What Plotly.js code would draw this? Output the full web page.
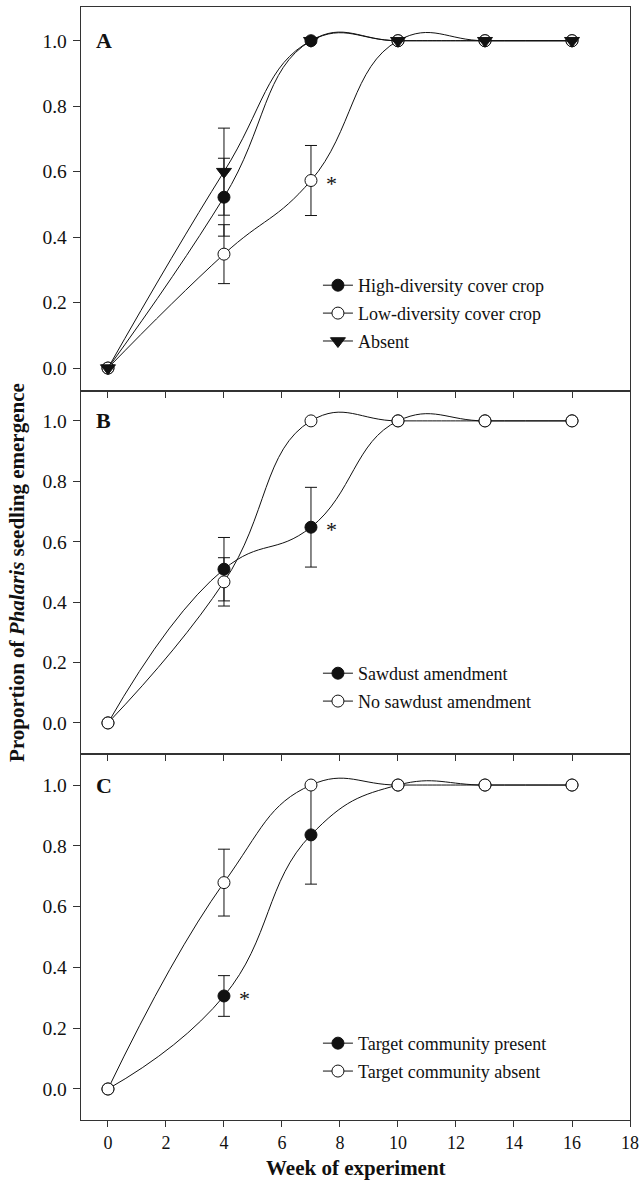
<!DOCTYPE html>
<html>
<head>
<meta charset="utf-8">
<script src="https://cdn.plot.ly/plotly-3.0.1.min.js"></script>
<style>html,body{margin:0;padding:0;background:#fff;}#chart{width:639px;height:1180px;}</style>
</head>
<body>
<div id="chart"></div>
<script>
// ---- data ----
const weeks = [0, 4, 7, 10, 13, 16];
const xTickVals = [0, 2, 4, 6, 8, 10, 12, 14, 16, 18];
const yTickVals = [0, 0.2, 0.4, 0.6, 0.8, 1.0];
const yTickText = ["0.0", "0.2", "0.4", "0.6", "0.8", "1.0"];

// Panel A
const highDiversity = [0, 0.522, 1.0, 1.0, 1.0, 1.0];
const highDiversityErr = [0, 0.119, 0, 0, 0, 0];
const lowDiversity = [0, 0.348, 0.573, 1.0, 1.0, 1.0];
const lowDiversityErr = [0, 0.090, 0.107, 0, 0, 0];
const absentCrop = [0, 0.600, 1.0, 1.0, 1.0, 1.0];
const absentCropErr = [0, 0.133, 0, 0, 0, 0];

// Panel B
const sawdust = [0, 0.509, 0.648, 1.0, 1.0, 1.0];
const sawdustErr = [0, 0.105, 0.132, 0, 0, 0];
const noSawdust = [0, 0.467, 1.0, 1.0, 1.0, 1.0];
const noSawdustErr = [0, 0.080, 0, 0, 0, 0];

// Panel C
const targetPresent = [0, 0.306, 0.836, 1.0, 1.0, 1.0];
const targetPresentErr = [0, 0.067, 0.162, 0, 0, 0];
const targetAbsent = [0, 0.679, 1.0, 1.0, 1.0, 1.0];
const targetAbsentErr = [0, 0.110, 0, 0, 0, 0];

// significance markers: [panel, week, value]
const sigMarks = [["A", 7, 0.573], ["B", 7, 0.648], ["C", 4, 0.306]];

// ---- styling / build ----
const FONT = "Liberation Serif, Times New Roman, serif";
const INK = "#111";

function errs(a) { return a.map(v => v > 0 ? v : NaN); }

function trace(name, y, e, axisIdx, symbol, filled, legendName, group) {
  const sfx = axisIdx === 1 ? "" : String(axisIdx);
  return {
    type: "scatter", mode: "lines+markers", name: name,
    x: weeks, y: y,
    xaxis: "x" + sfx, yaxis: "y" + sfx,
    legend: legendName, legendgroup: group,
    line: {color: INK, width: 1, shape: "spline", smoothing: 1.3},
    marker: {symbol: symbol, size: symbol === "triangle-down" ? 13 : 12,
             color: filled ? INK : "#fff", line: {color: INK, width: 1}},
    error_y: {type: "data", array: errs(e), visible: true, color: INK, thickness: 1, width: 6}
  };
}

const data = [
  trace("High-diversity cover crop", highDiversity, highDiversityErr, 1, "circle", true, "legend", "a1"),
  trace("Low-diversity cover crop", lowDiversity, lowDiversityErr, 1, "circle", false, "legend", "a2"),
  trace("Absent", absentCrop, absentCropErr, 1, "triangle-down", true, "legend", "a3"),
  trace("Sawdust amendment", sawdust, sawdustErr, 2, "circle", true, "legend2", "b1"),
  trace("No sawdust amendment", noSawdust, noSawdustErr, 2, "circle", false, "legend2", "b2"),
  trace("Target community present", targetPresent, targetPresentErr, 3, "circle", true, "legend3", "c1"),
  trace("Target community absent", targetAbsent, targetAbsentErr, 3, "circle", false, "legend3", "c2")
];

const axisLine = {showline: true, linecolor: "#333", linewidth: 1.3, mirror: true,
  ticks: "outside", tickcolor: "#333", tickwidth: 1, showgrid: false, zeroline: false};

function xAxis(showLabels, anchor) {
  return Object.assign({}, axisLine, {
    range: [-0.93, 18], tickmode: "array", tickvals: xTickVals, ticklen: 6,
    showticklabels: showLabels, anchor: anchor,
    tickfont: {family: FONT, size: 18, color: INK}
  });
}
function yAxis(range, domain, anchor) {
  return Object.assign({}, axisLine, {
    range: range, domain: domain, tickmode: "array", tickvals: yTickVals, ticktext: yTickText,
    ticklen: 7, anchor: anchor, ticklabelstandoff: 2,
    tickfont: {family: FONT, size: 19.5, color: INK}
  });
}

const panelLabels = [["A", "x", "y"], ["B", "x2", "y2"], ["C", "x3", "y3"]];
const annotations = panelLabels.map(p => ({
  text: "<b>" + p[0] + "</b>", xref: p[1], yref: p[2], x: -0.14, y: 1.0,
  xanchor: "center", yanchor: "middle", showarrow: false,
  font: {family: FONT, size: 22, color: INK}
}));
const axMap = {A: ["x", "y"], B: ["x2", "y2"], C: ["x3", "y3"]};
sigMarks.forEach(s => annotations.push({
  text: "*", xref: axMap[s[0]][0], yref: axMap[s[0]][1], x: s[1] + 0.7, y: s[2] - 0.008,
  xanchor: "center", yanchor: "middle", showarrow: false,
  font: {family: FONT, size: 22, color: INK}
}));
annotations.push({
  text: "<b>Proportion of <i>Phalaris</i> seedling emergence</b>",
  xref: "paper", yref: "paper", x: -0.1166, y: 0.4924, textangle: -90,
  xanchor: "center", yanchor: "middle", showarrow: false,
  font: {family: FONT, size: 21, color: INK}
});
annotations.push({
  text: "<b>Week of experiment</b>",
  xref: "paper", yref: "paper", x: 0.5, y: -0.043,
  xanchor: "center", yanchor: "middle", showarrow: false,
  font: {family: FONT, size: 21, color: INK}
});

const legendBase = {xref: "paper", yref: "paper", xanchor: "left", yanchor: "top",
  bgcolor: "rgba(0,0,0,0)", borderwidth: 0, tracegroupgap: 1.5,
  font: {family: FONT, size: 18, color: INK}};

const layout = {
  width: 639, height: 1180,
  margin: {l: 81, r: 9, t: 7, b: 60},
  paper_bgcolor: "#fff", plot_bgcolor: "#fff",
  font: {family: FONT, color: INK},
  showlegend: true,
  xaxis: xAxis(false, "y"),
  xaxis2: xAxis(false, "y2"),
  xaxis3: xAxis(true, "y3"),
  yaxis: yAxis([-0.07, 1.103], [0.655, 1], "x"),
  yaxis2: yAxis([-0.103, 1.099], [0.3288, 0.655], "x2"),
  yaxis3: yAxis([-0.102, 1.102], [0, 0.3288], "x3"),
  legend: Object.assign({}, legendBase, {x: 0.4316, y: 0.7664}),
  legend2: Object.assign({}, legendBase, {x: 0.4316, y: 0.4178}),
  legend3: Object.assign({}, legendBase, {x: 0.4316, y: 0.0854}),
  annotations: annotations
};

Plotly.newPlot("chart", data, layout, {staticPlot: true, displayModeBar: false});
</script>
</body>
</html>
